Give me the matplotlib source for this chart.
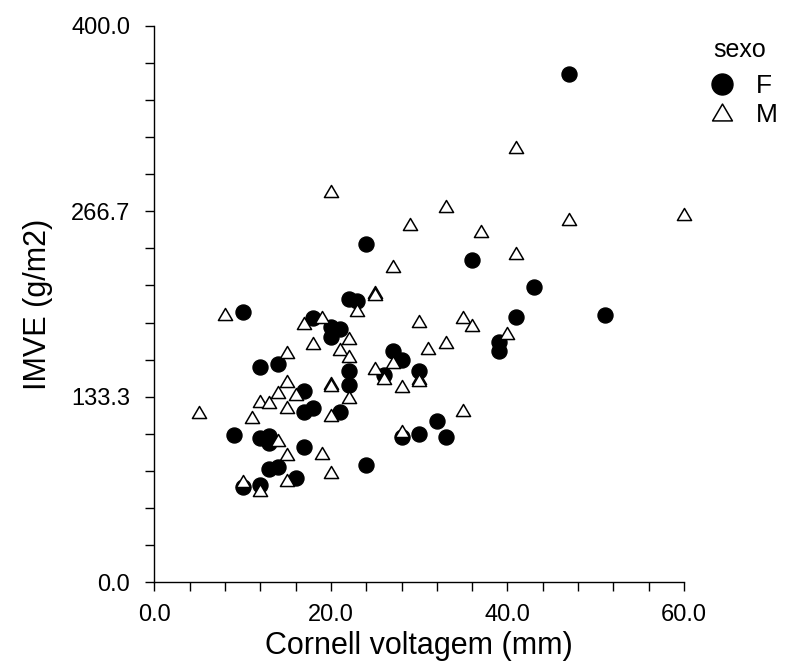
import numpy as np
import matplotlib
matplotlib.use('Agg')
import matplotlib.pyplot as plt
from matplotlib.path import Path

plt.rcParams['font.family'] = ['Liberation Sans', 'DejaVu Sans']

# Dados: Cornell voltagem (mm) x IMVE (g/m2)
f_cornell = [10, 22, 23, 18, 20, 21, 20, 27, 12, 14, 22, 26, 17, 22, 17, 18, 21,
             9, 12, 13, 13, 17, 13, 14, 24, 16, 10, 12, 47, 24, 36, 43, 41, 51,
             39, 39, 28, 30, 32, 28, 30, 33]
f_imve = [194.5, 203.4, 202.4, 189.7, 183.7, 181.8, 176.1, 166.4, 154.5, 157.0,
          152.0, 149.0, 137.6, 141.5, 122.3, 125.5, 122.1, 105.8, 103.4, 105.0,
          99.8, 97.3, 81.1, 82.7, 84.2, 75.2, 68.3, 70.0, 365.5, 243.2, 231.7,
          212.0, 190.9, 191.8, 172.9, 166.2, 159.5, 151.8, 116.0, 104.1, 106.5,
          104.1]

m_cornell = [25, 25, 8, 23, 19, 17, 22, 18, 21, 15, 22, 25, 15, 14, 16, 20, 20,
             22, 12, 13, 15, 20, 5, 11, 14, 15, 19, 20, 15, 10, 12, 20, 33, 29,
             27, 41, 47, 60, 37, 41, 30, 35, 36, 40, 33, 31, 27, 26, 30, 30, 28,
             35, 28]
m_imve = [209.0, 207.0, 193.0, 196.0, 191.0, 186.0, 175.5, 171.7, 167.5, 165.5,
          162.8, 154.0, 144.8, 136.5, 135.5, 143.0, 141.5, 133.3, 130.4, 129.2,
          125.7, 120.1, 122.5, 118.9, 102.5, 92.1, 92.8, 78.9, 73.4, 73.0, 66.2,
          281.5, 270.3, 257.8, 227.6, 313.2, 260.9, 264.5, 252.5, 236.8, 187.9,
          190.9, 185.0, 179.4, 172.9, 168.7, 158.0, 146.7, 147.0, 145.0, 141.0,
          123.7, 108.5]

y_ticks = [0, 400 / 3, 800 / 3, 400]
y_labels = ['0.0', '133.3', '266.7', '400.0']
x_ticks = [0, 20, 40, 60]
x_labels = ['0.0', '20.0', '40.0', '60.0']

# triângulo mais achatado, como no original
tri = Path([(-1, -0.85), (1, -0.85), (0, 0.85), (-1, -0.85)],
           [Path.MOVETO, Path.LINETO, Path.LINETO, Path.CLOSEPOLY])

fig = plt.figure(figsize=(7.88, 6.66), dpi=100)
ax = fig.add_axes([0.196, 0.126, 0.672, 0.835])

ax.plot(f_cornell, f_imve, linestyle='none', marker='o', markersize=10.8,
        color='black', label='F', clip_on=False)
ax.plot(m_cornell, m_imve, linestyle='none', marker=tri, markersize=10.2,
        markerfacecolor='white', markeredgecolor='black', markeredgewidth=1.1,
        label='M', clip_on=False)

ax.set_xlim(0, 60)
ax.set_ylim(0, 400)
ax.spines['top'].set_visible(False)
ax.spines['right'].set_visible(False)
ax.spines['left'].set_linewidth(1.0)
ax.spines['bottom'].set_linewidth(1.0)

ax.set_xticks(x_ticks)
ax.set_xticklabels(x_labels)
ax.set_xticks(np.arange(0, 61, 4), minor=True)
ax.set_yticks(y_ticks)
ax.set_yticklabels(y_labels)
ax.set_yticks(np.linspace(0, 400, 16), minor=True)
ax.tick_params(which='both', length=6.5, width=1.0, labelsize=17)
ax.tick_params(axis='x', which='both', pad=9)
ax.tick_params(axis='y', which='both', pad=11)

ax.set_xlabel('Cornell voltagem (mm)', fontsize=22, labelpad=4)
ax.set_ylabel('IMVE (g/m2)', fontsize=22, labelpad=13)

ax.legend(loc='upper left', bbox_to_anchor=(0.899, 0.889),
          bbox_transform=fig.transFigure, frameon=False, fontsize=19,
          markerscale=1.4, handlelength=1.0, handletextpad=0.8,
          labelspacing=0.18, borderpad=0, borderaxespad=0)
fig.text(0.905, 0.925, 'sexo', fontsize=18, va='center', ha='left')

plt.savefig('out.png', dpi=100)
